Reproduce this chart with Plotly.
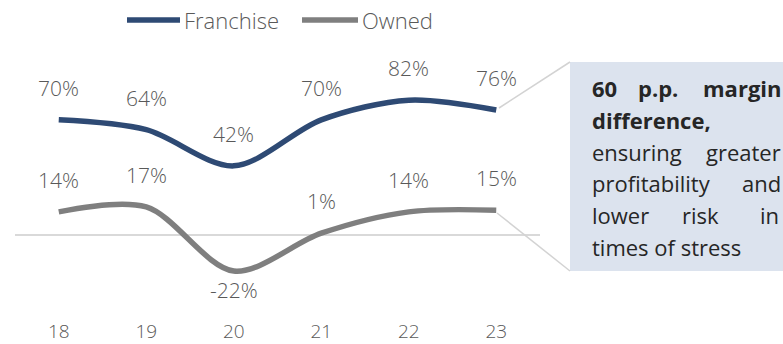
import plotly.graph_objects as go

# Fiscal years and margin series (%)
years = ["18", "19", "20", "21", "22", "23"]
franchise = [70, 64, 42, 70, 82, 76]
owned = [14, 17, -22, 1, 14, 15]

series_names = ["Franchise", "Owned"]
callout_lines = [
    (["60", "p.p.", "margin"], True),
    (["difference,"], True),
    (["ensuring", "greater"], False),
    (["profitability", "and"], False),
    (["lower", "risk", "in"], False),
    (["times of stress"], False),
]

NAVY = "#2E4A74"
GREY = "#7F7F7F"
LABEL = "#595959"
FONT = "Open Sans"

W, H = 783, 344
ML, MR, MT, MB = 15, 243, 87, 27
PW, PH = W - ML - MR, H - MT - MB


def px(x):
    return (x - ML) / PW


def py(y):
    return (H - MB - y) / PH


fig = go.Figure()
for name, vals, col in [("Franchise", franchise, NAVY), ("Owned", owned, GREY)]:
    fig.add_trace(go.Scatter(
        x=list(range(len(years))), y=vals, name=name, mode="lines",
        line=dict(color=col, width=5.5, shape="spline", smoothing=0.9),
        showlegend=False, hoverinfo="skip",
    ))

annotations = []
for vals in (franchise, owned):
    for i, v in enumerate(vals):
        annotations.append(dict(
            x=i, y=v, xref="x", yref="y", text=f"{v}%", showarrow=False,
            yshift=32 if v >= 0 else -19,
            font=dict(family=FONT, size=21, color=LABEL, weight=300),
        ))

# legend drawn by hand so the line samples are long
shapes = []
legend_items = [(series_names[0], NAVY, 127, 180, 182), (series_names[1], GREY, 302, 358, 360)]
for name, col, x0, x1, tx in legend_items:
    shapes.append(dict(type="line", xref="paper", yref="paper",
                       x0=px(x0), x1=px(x1), y0=py(20), y1=py(20),
                       line=dict(color=col, width=5.5), layer="above"))
    annotations.append(dict(xref="paper", yref="paper", x=px(tx), y=py(20),
                            xanchor="left", yanchor="middle", text=name, showarrow=False,
                            font=dict(family=FONT, size=22, color=LABEL, weight=300)))

# callout box and connectors
shapes.append(dict(type="rect", xref="paper", yref="paper",
                   x0=px(570), x1=px(790), y0=py(271), y1=py(62),
                   fillcolor="#DCE3EE", line=dict(width=0), layer="below"))
shapes.append(dict(type="line", xref="paper", yref="paper",
                   x0=px(499), y0=py(108), x1=px(570), y1=py(62),
                   line=dict(color="#D3D3D3", width=1.5)))
shapes.append(dict(type="line", xref="paper", yref="paper",
                   x0=px(497), y0=py(213), x1=px(570), y1=py(271),
                   line=dict(color="#D3D3D3", width=1.5)))

line_y = [88, 120, 152, 183, 215, 247]
word_x = {
    ("60", 0): ("left", 590), ("p.p.", 0): ("center", 658), ("margin", 0): ("right", 783),
    ("difference,", 1): ("left", 590),
    ("ensuring", 2): ("left", 590), ("greater", 2): ("right", 783),
    ("profitability", 3): ("left", 590), ("and", 3): ("right", 783),
    ("lower", 4): ("left", 590), ("risk", 4): ("center", 700), ("in", 4): ("right", 781),
    ("times of stress", 5): ("left", 590),
}
for i, (words, bold) in enumerate(callout_lines):
    for w in words:
        anchor, xp = word_x[(w, i)]
        annotations.append(dict(
            xref="paper", yref="paper", x=px(xp), y=py(line_y[i]),
            xanchor=anchor, yanchor="middle", showarrow=False,
            text=f"<b>{w}</b>" if bold else w,
            font=dict(family=FONT, size=22, color="#262626"),
        ))

fig.update_layout(
    width=W, height=H, margin=dict(l=ML, r=MR, t=MT, b=MB),
    paper_bgcolor="white", plot_bgcolor="white",
    shapes=shapes, annotations=annotations, showlegend=False,
    xaxis=dict(range=[-0.5, 5.5], showgrid=False, zeroline=False, showline=False,
               automargin=False, ticks="", ticklabelstandoff=1,
               tickmode="array", tickvals=list(range(len(years))), ticktext=years,
               tickfont=dict(family=FONT, size=19, color=LABEL, weight=300)),
    yaxis=dict(range=[-50, 90], showgrid=False, showticklabels=False, showline=False,
               automargin=False, zeroline=True, zerolinecolor="#D9D9D9", zerolinewidth=1.5),
)

fig.write_html("out.html")
